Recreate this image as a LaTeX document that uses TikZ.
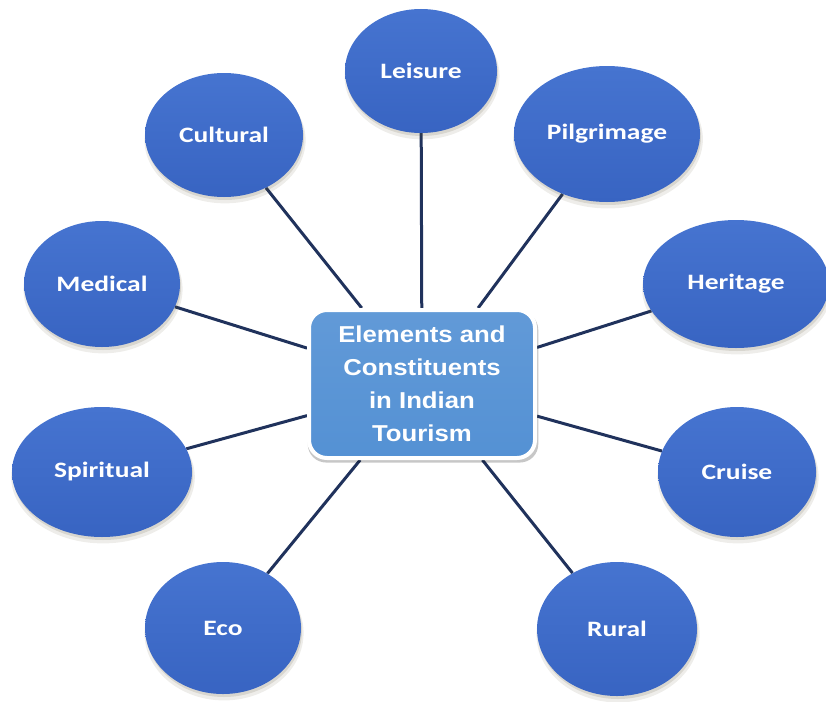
\documentclass[tikz,border=0pt]{standalone}
\usepackage{fontspec}
\usetikzlibrary{shapes.geometric,shadows,backgrounds}
\newfontfamily\lblfont[FakeStretch=1.25]{Carlito}
\newfontfamily\boxfont[FakeStretch=1.12]{Liberation Sans}
\definecolor{elltop}{RGB}{70,116,208}
\definecolor{ellbot}{RGB}{56,100,194}
\definecolor{boxfill}{RGB}{84,145,212}
\definecolor{linkcol}{RGB}{32,50,92}
\definecolor{shadecol}{RGB}{90,80,50}
\tikzset{
  softshadow/.style={
    general shadow={fill=shadecol, opacity=0.10, shadow xshift=1pt, shadow yshift=-5pt, shadow scale=1.02},
    general shadow={fill=shadecol, opacity=0.15, shadow xshift=1pt, shadow yshift=-3pt},
  },
  topic/.style={ellipse, inner sep=0pt, softshadow, top color=elltop, bottom color=ellbot,
    text=white, font=\lblfont\bfseries\fontsize{22}{26}\selectfont},
  centerbox/.style={rectangle, rounded corners=18pt, inner sep=0pt, draw=white, line width=4pt,
    top color=boxfill!92!white, bottom color=boxfill,
    general shadow={fill=black, opacity=0.22, shadow xshift=1pt, shadow yshift=-3pt, shadow scale=1.02},
    minimum width=226pt, minimum height=148pt, align=center, text=white,
    font=\boxfont\bfseries\fontsize{23}{33}\selectfont},
  link/.style={draw=linkcol, line width=3pt}
}
\begin{document}
\begin{tikzpicture}[x=1pt,y=-1pt]
\useasboundingbox (0,0) rectangle (826,701);
\node[centerbox] (hub) at (422,384) {Elements and\\Constituents\\in Indian\\Tourism};
\node[topic, minimum width=152pt, minimum height=124pt] (leisure) at (421,71) {Leisure};
\node[topic, minimum width=186pt, minimum height=136pt] (pilg) at (607,134) {Pilgrimage};
\node[topic, minimum width=186pt, minimum height=128pt] (herit) at (736,284) {Heritage};
\node[topic, minimum width=158pt, minimum height=130pt] (cruise) at (737,472) {Cruise};
\node[topic, minimum width=160pt, minimum height=134pt] (rural) at (617,629) {Rural};
\node[topic, minimum width=156pt, minimum height=132pt] (eco) at (223,628) {Eco};
\node[topic, minimum width=180pt, minimum height=130pt] (spirit) at (102,472) {Spiritual};
\node[topic, minimum width=156pt, minimum height=126pt] (medical) at (102,284) {Medical};
\node[topic, minimum width=158pt, minimum height=124pt] (cultural) at (224,135) {Cultural};
\begin{scope}[on background layer]
\foreach \n in {leisure,pilg,herit,cruise,rural,eco,spirit,medical,cultural}
  \draw[link] (hub) -- (\n);
\end{scope}
\end{tikzpicture}
\end{document}
